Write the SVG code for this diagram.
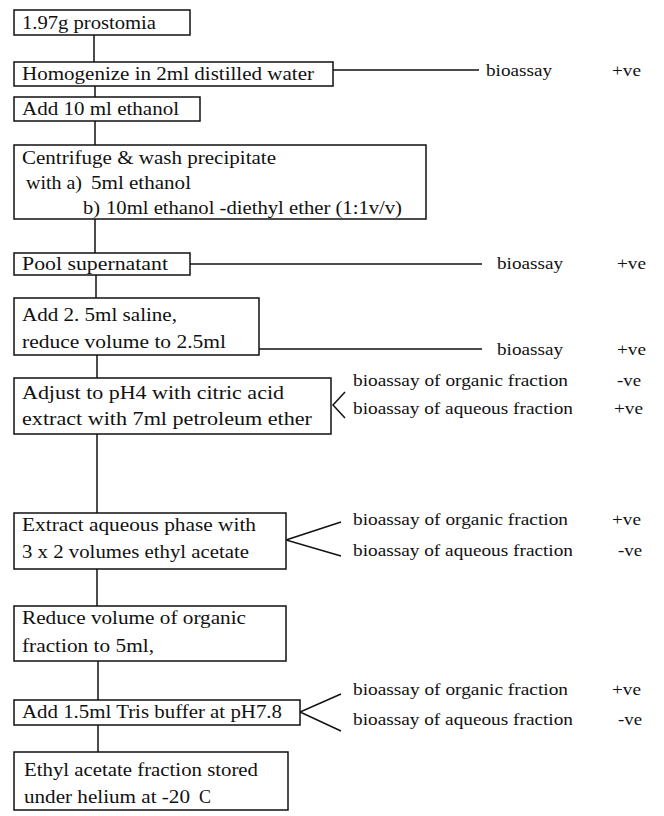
<svg xmlns="http://www.w3.org/2000/svg" width="664" height="816" viewBox="0 0 664 816">
<style>
.b{fill:#fff;stroke:#111;stroke-width:1.5}
.c{fill:none;stroke:#111;stroke-width:1.5}
text{font-family:"Liberation Serif","DejaVu Serif",serif;font-size:17px;fill:#111}
.t{font-size:18px}
</style>
<rect width="664" height="816" fill="#fff"/>
<g id="connectors">
<line class="c" x1="94" y1="35" x2="94" y2="62"/>
<line class="c" x1="95" y1="86" x2="95" y2="97"/>
<line class="c" x1="95" y1="121" x2="95" y2="145"/>
<line class="c" x1="95" y1="219" x2="95" y2="253"/>
<line class="c" x1="96" y1="275" x2="96" y2="298"/>
<line class="c" x1="97" y1="355" x2="97" y2="378"/>
<line class="c" x1="97" y1="434" x2="97" y2="513"/>
<line class="c" x1="97" y1="569" x2="97" y2="606"/>
<line class="c" x1="98" y1="661" x2="98" y2="700"/>
<line class="c" x1="98" y1="725" x2="98" y2="752"/>
<line class="c" x1="333" y1="70" x2="479" y2="70"/>
<line class="c" x1="190" y1="264" x2="482" y2="264"/>
<line class="c" x1="259" y1="349" x2="482" y2="349"/>
<polyline class="c" points="345,392 333,405 345,418"/>
<polyline class="c" points="341,522 286,540 341,556"/>
<polyline class="c" points="341,694 300,712 341,731"/>
</g>
<g id="n1"><rect class="b" x="14" y="10" width="176" height="25"/><text class="t" x="22" y="29" textLength="134" lengthAdjust="spacingAndGlyphs">1.97g prostomia</text></g>
<g id="n2"><rect class="b" x="14" y="62" width="319" height="24"/><text class="t" x="22" y="80" textLength="292" lengthAdjust="spacingAndGlyphs">Homogenize in 2ml distilled water</text></g>
<g id="n3"><rect class="b" x="14" y="97" width="186" height="24"/><text class="t" x="22" y="115" textLength="157" lengthAdjust="spacingAndGlyphs">Add 10 ml ethanol</text></g>
<g id="n4"><rect class="b" x="14" y="145" width="412" height="74"/><text class="t" x="22" y="164" textLength="254" lengthAdjust="spacingAndGlyphs">Centrifuge &amp; wash precipitate</text><text class="t" x="26" y="189" textLength="56" lengthAdjust="spacingAndGlyphs">with a)</text><text class="t" x="91" y="189" textLength="100" lengthAdjust="spacingAndGlyphs">5ml ethanol</text><text class="t" x="83" y="214" textLength="17" lengthAdjust="spacingAndGlyphs">b)</text><text class="t" x="106" y="214" textLength="296" lengthAdjust="spacingAndGlyphs">10ml ethanol -diethyl ether (1:1v/v)</text></g>
<g id="n5"><rect class="b" x="14" y="253" width="176" height="22"/><text class="t" x="22" y="270" textLength="146" lengthAdjust="spacingAndGlyphs">Pool supernatant</text></g>
<g id="n6"><rect class="b" x="14" y="298" width="245" height="57"/><text class="t" x="22" y="321" textLength="155" lengthAdjust="spacingAndGlyphs">Add 2. 5ml saline,</text><text class="t" x="22" y="348" textLength="204" lengthAdjust="spacingAndGlyphs">reduce volume to 2.5ml</text></g>
<g id="n7"><rect class="b" x="14" y="378" width="317" height="56"/><text class="t" x="22" y="399" textLength="262" lengthAdjust="spacingAndGlyphs">Adjust to pH4 with citric acid</text><text class="t" x="22" y="425" textLength="290" lengthAdjust="spacingAndGlyphs">extract with 7ml petroleum ether</text></g>
<g id="n8"><rect class="b" x="14" y="513" width="272" height="56"/><text class="t" x="22" y="531" textLength="234" lengthAdjust="spacingAndGlyphs">Extract aqueous phase with</text><text class="t" x="22" y="558" textLength="227" lengthAdjust="spacingAndGlyphs">3 x 2 volumes ethyl acetate</text></g>
<g id="n9"><rect class="b" x="14" y="606" width="272" height="55"/><text class="t" x="22" y="624" textLength="224" lengthAdjust="spacingAndGlyphs">Reduce volume of organic</text><text class="t" x="22" y="652" textLength="132" lengthAdjust="spacingAndGlyphs">fraction to 5ml,</text></g>
<g id="n10"><rect class="b" x="14" y="700" width="286" height="25"/><text class="t" x="22" y="718" textLength="260" lengthAdjust="spacingAndGlyphs">Add 1.5ml Tris buffer at pH7.8</text></g>
<g id="n11"><rect class="b" x="14" y="752" width="274" height="58"/><text class="t" x="24" y="776" textLength="234" lengthAdjust="spacingAndGlyphs">Ethyl acetate fraction stored</text><text class="t" x="24" y="803" textLength="166" lengthAdjust="spacingAndGlyphs">under helium at -20</text><text class="t" x="199" y="803">C</text></g>
<g id="labels">
<text x="486" y="76" textLength="66" lengthAdjust="spacingAndGlyphs">bioassay</text><text x="612" y="76" textLength="29" lengthAdjust="spacingAndGlyphs">+ve</text>
<text x="497" y="269" textLength="66" lengthAdjust="spacingAndGlyphs">bioassay</text><text x="617" y="269" textLength="29" lengthAdjust="spacingAndGlyphs">+ve</text>
<text x="497" y="355" textLength="66" lengthAdjust="spacingAndGlyphs">bioassay</text><text x="617" y="355" textLength="29" lengthAdjust="spacingAndGlyphs">+ve</text>
<text x="353" y="386" textLength="215" lengthAdjust="spacingAndGlyphs">bioassay of organic fraction</text><text x="617" y="386" textLength="24" lengthAdjust="spacingAndGlyphs">-ve</text>
<text x="353" y="414" textLength="220" lengthAdjust="spacingAndGlyphs">bioassay of aqueous fraction</text><text x="614" y="414" textLength="29" lengthAdjust="spacingAndGlyphs">+ve</text>
<text x="353" y="525" textLength="215" lengthAdjust="spacingAndGlyphs">bioassay of organic fraction</text><text x="612" y="525" textLength="29" lengthAdjust="spacingAndGlyphs">+ve</text>
<text x="353" y="556" textLength="220" lengthAdjust="spacingAndGlyphs">bioassay of aqueous fraction</text><text x="618" y="556" textLength="24" lengthAdjust="spacingAndGlyphs">-ve</text>
<text x="353" y="695" textLength="215" lengthAdjust="spacingAndGlyphs">bioassay of organic fraction</text><text x="612" y="695" textLength="29" lengthAdjust="spacingAndGlyphs">+ve</text>
<text x="353" y="725" textLength="220" lengthAdjust="spacingAndGlyphs">bioassay of aqueous fraction</text><text x="618" y="725" textLength="24" lengthAdjust="spacingAndGlyphs">-ve</text>
</g>
</svg>
